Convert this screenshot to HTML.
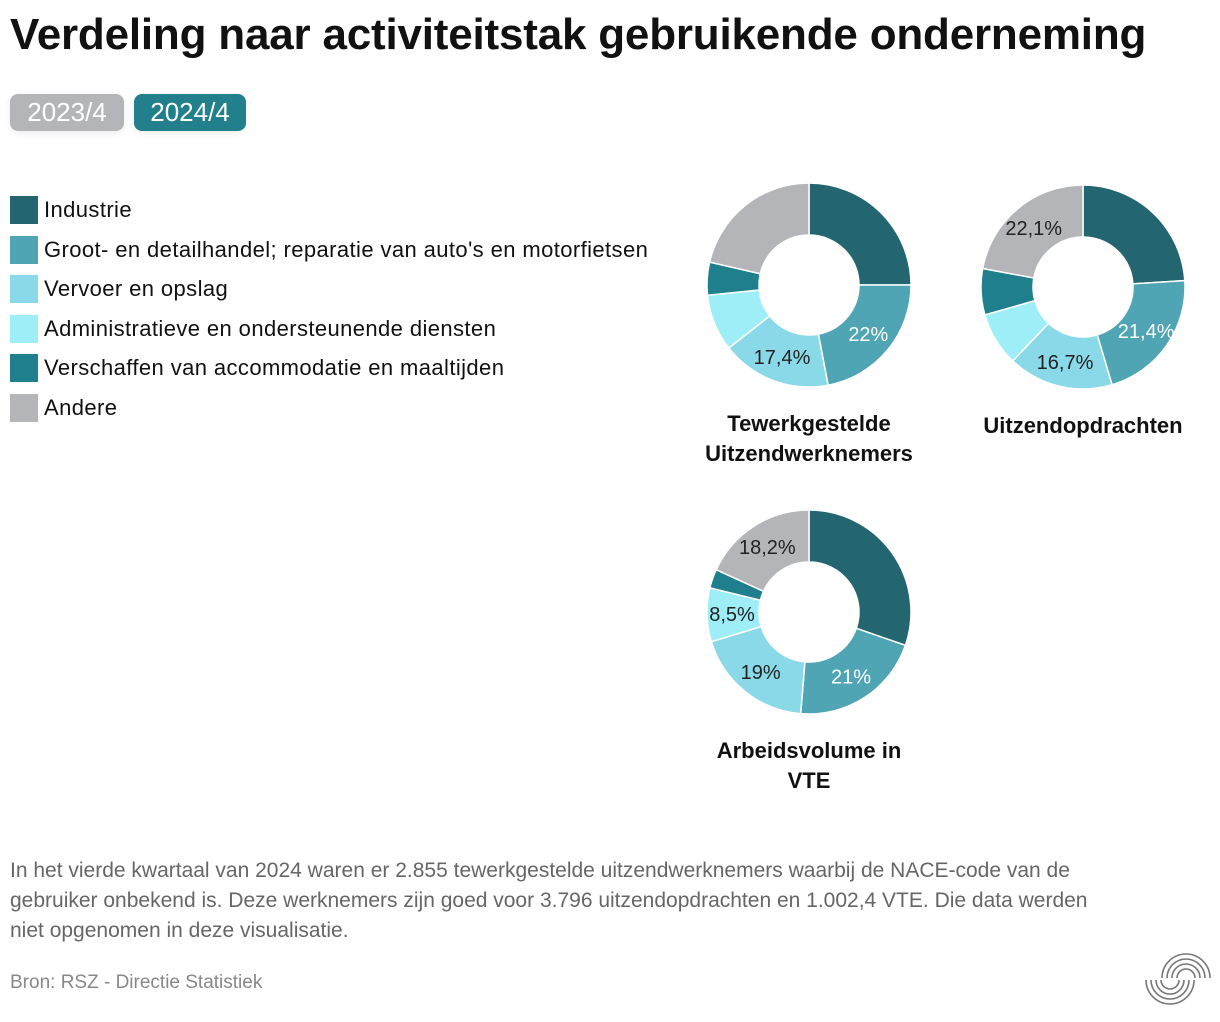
<!DOCTYPE html>
<html><head><meta charset="utf-8"><style>
body{margin:0;background:#fff;font-family:"Liberation Sans",sans-serif;color:#111;}
#root{position:relative;width:1220px;height:1022px;overflow:hidden;}
h1{position:absolute;left:10px;top:10px;margin:0;font-size:44px;font-weight:bold;letter-spacing:-0.2px;white-space:nowrap;}
.btn{position:absolute;top:94px;height:37px;border-radius:8px;color:#fff;font-size:26px;line-height:37px;text-align:center;box-shadow:0 2px 8px rgba(0,0,0,.08);}
.leg{position:absolute;left:10px;height:28px;font-size:22px;letter-spacing:0.4px;line-height:28px;white-space:nowrap;}
.leg span{display:inline-block;width:28px;height:28px;vertical-align:top;margin-right:6px;}
.note{position:absolute;left:10px;top:856px;width:1100px;font-size:21px;line-height:30px;color:#666;}
.src{position:absolute;left:10px;top:972px;font-size:19px;color:#888;}
</style></head><body>
<div id="root">
<h1>Verdeling naar activiteitstak gebruikende onderneming</h1>
<div class="btn" style="left:10px;width:114px;background:#b4b5b9">2023/4</div>
<div class="btn" style="left:134px;width:112px;background:#21808c">2024/4</div>
<div id="legend"></div>
<svg id="svg" width="1220" height="1022" style="position:absolute;left:0;top:0"></svg>
<div class="note">In het vierde kwartaal van 2024 waren er 2.855 tewerkgestelde uitzendwerknemers waarbij de NACE-code van de gebruiker onbekend is. Deze werknemers zijn goed voor 3.796 uitzendopdrachten en 1.002,4 VTE. Die data werden niet opgenomen in deze visualisatie.</div>
<div class="src">Bron: RSZ - Directie Statistiek</div>
<svg width="70" height="60" style="position:absolute;left:1142px;top:952px" fill="none" stroke="#777" stroke-width="1.6">
<path d="M20 26 A24 24 0 0 1 68 26 M25 26 A19 19 0 0 1 63 26 M30 26 A14 14 0 0 1 58 26 M35 26 A9 9 0 0 1 53 26"/>
<path d="M4 28 A24 24 0 0 0 52 28 M9 28 A19 19 0 0 0 47 28 M14 28 A14 14 0 0 0 42 28 M19 28 A9 9 0 0 0 37 28"/>
</svg>
</div>
<script>
const categories=["Industrie","Groot- en detailhandel; reparatie van auto's en motorfietsen","Vervoer en opslag","Administratieve en ondersteunende diensten","Verschaffen van accommodatie en maaltijden","Andere"];
const colors=["#236670","#4fa5b3","#8ad9e8","#9eeef8","#1f7f8c","#b4b5b9"];
const chartTitles=[["Tewerkgestelde","Uitzendwerknemers"],["Uitzendopdrachten"],["Arbeidsvolume in","VTE"]];
const valuesWerknemers=[25,22,17.4,9,5.2,21.4];
const valuesOpdrachten=[24,21.4,16.7,8.5,7.3,22.1];
const valuesVTE=[30.3,21,19,8.5,3,18.2];
const labelsWerknemers=[null,"22%","17,4%",null,null,null];
const labelsOpdrachten=[null,"21,4%","16,7%",null,null,"22,1%"];
const labelsVTE=[null,"21%","19%","8,5%",null,"18,2%"];
const centers=[[809,285],[1083,287],[809,612]];
const series=[valuesWerknemers,valuesOpdrachten,valuesVTE];
const labels=[labelsWerknemers,labelsOpdrachten,labelsVTE];
const leg=document.getElementById('legend');
categories.forEach((c,i)=>{const d=document.createElement('div');d.className='leg';d.style.top=(196+i*39.5)+'px';


d.innerHTML='<span style="background:'+colors[i]+'"></span>'+c;leg.appendChild(d);});
const svg=document.getElementById('svg');const NS='http://www.w3.org/2000/svg';
const R=102,r=50;
function pt(cx,cy,rad,a){return [cx+rad*Math.sin(a),cy-rad*Math.cos(a)];}
series.forEach((vals,k)=>{const [cx,cy]=centers[k];const tot=vals.reduce((a,b)=>a+b,0);let acc=0;
vals.forEach((v,i)=>{const a0=acc/tot*2*Math.PI;acc+=v;const a1=acc/tot*2*Math.PI;const lg=(a1-a0)>Math.PI?1:0;
const p0=pt(cx,cy,R,a0),p1=pt(cx,cy,R,a1),q1=pt(cx,cy,r,a1),q0=pt(cx,cy,r,a0);
const p=document.createElementNS(NS,'path');
p.setAttribute('d',`M${p0} A${R} ${R} 0 ${lg} 1 ${p1} L${q1} A${r} ${r} 0 ${lg} 0 ${q0}Z`);
p.setAttribute('fill',colors[i]);p.setAttribute('stroke','#fff');p.setAttribute('stroke-width','1.5');


svg.appendChild(p);
const lab=labels[k][i];if(lab){const m=pt(cx,cy,77,(a0+a1)/2);const t=document.createElementNS(NS,'text');
t.setAttribute('x',m[0]);t.setAttribute('y',m[1]+7);t.setAttribute('text-anchor','middle');t.setAttribute('font-size','20');
t.setAttribute('fill',i==1?'#fff':'#222');t.textContent=lab;


svg.appendChild(t);}
});
chartTitles[k].forEach((s,j)=>{const t=document.createElementNS(NS,'text');t.setAttribute('x',cx);t.setAttribute('y',cy+146+j*30);
t.setAttribute('text-anchor','middle');t.setAttribute('font-size','22');t.setAttribute('font-weight','bold');t.setAttribute('fill','#111');t.textContent=s;


svg.appendChild(t);});
});
</script>
</body></html>
